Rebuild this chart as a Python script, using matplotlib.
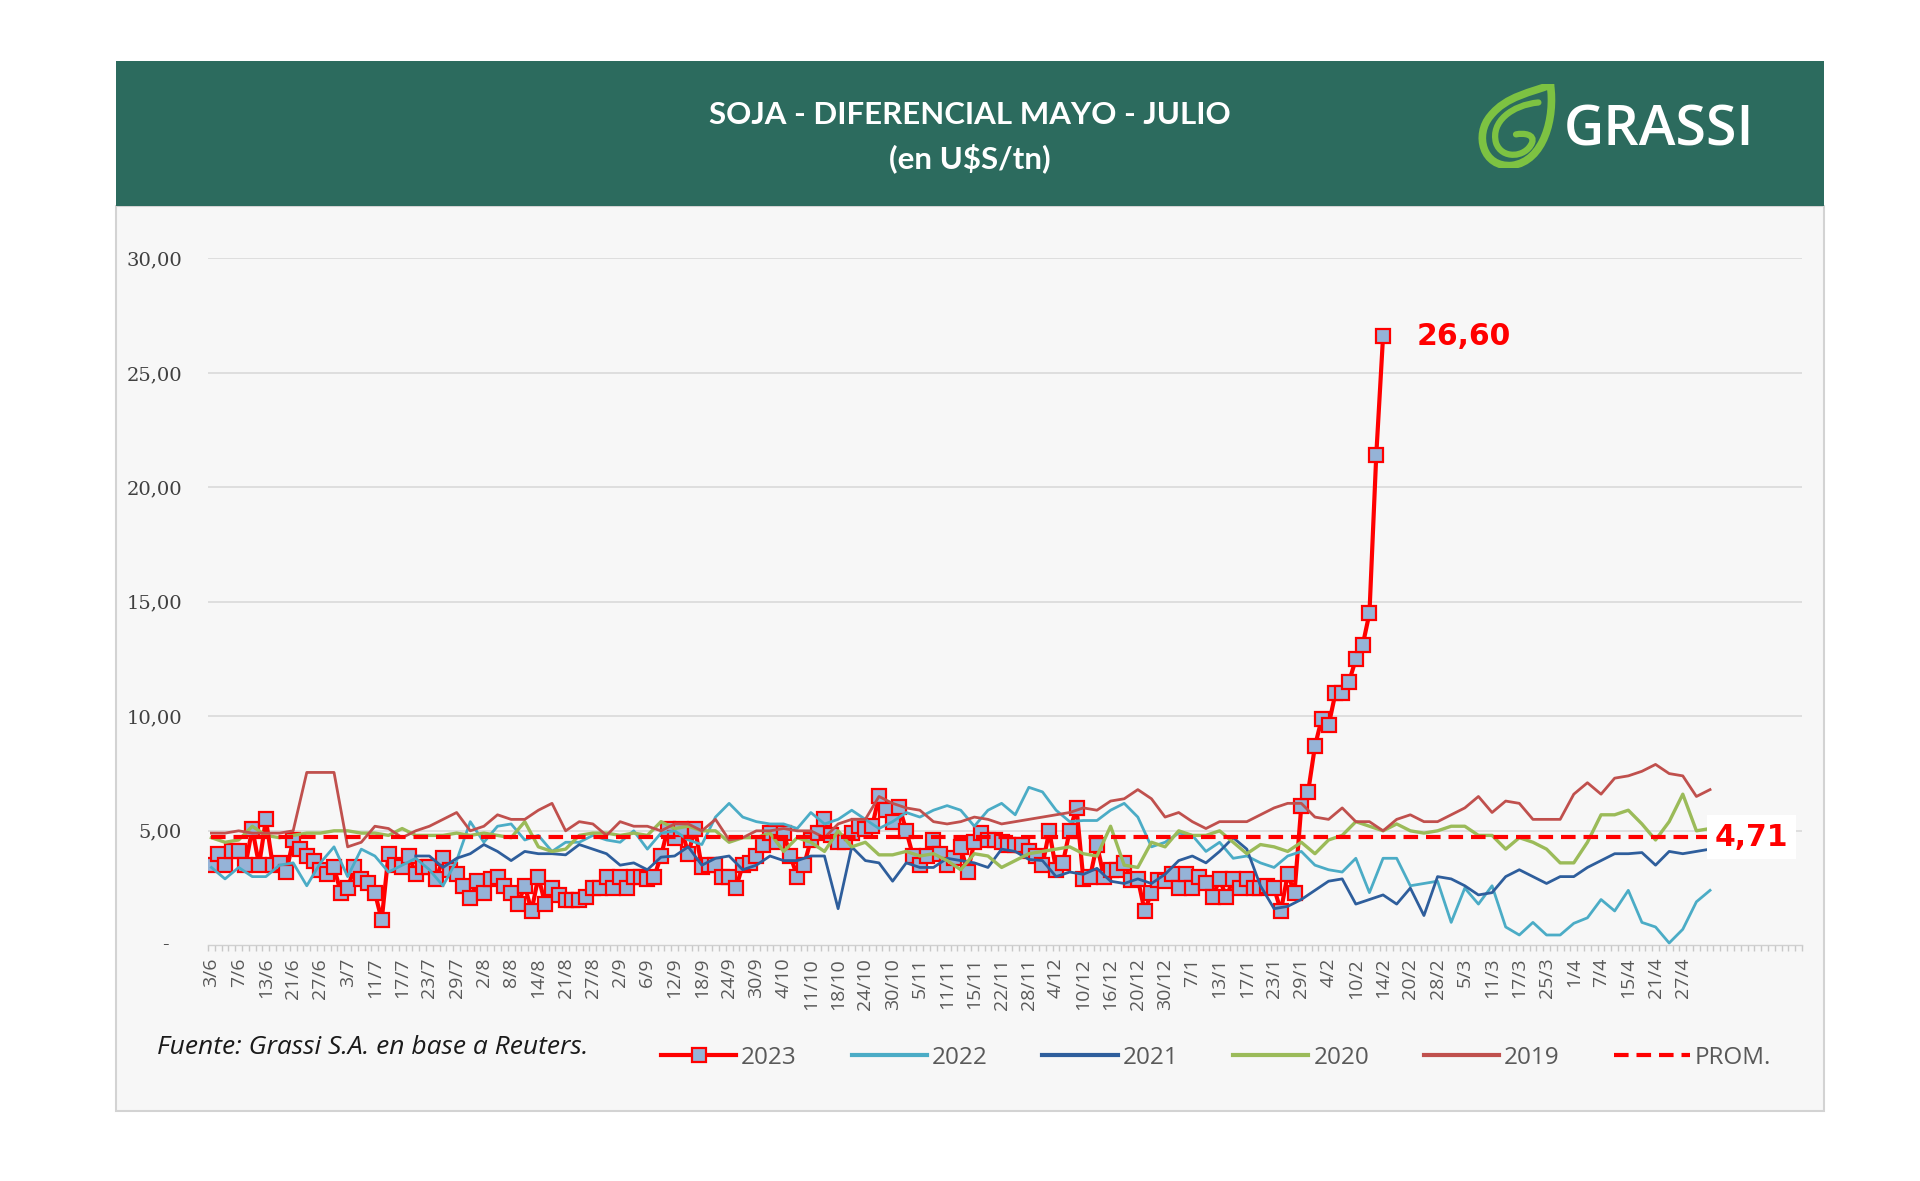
import numpy as np
import matplotlib
matplotlib.use('Agg')
import matplotlib.pyplot as plt
from matplotlib.patches import Rectangle, PathPatch
from matplotlib.path import Path
from matplotlib.lines import Line2D

# ---------------- DATA ----------------
date_labels = ['3/6', '7/6', '13/6', '21/6', '27/6', '3/7', '11/7', '17/7', '23/7', '29/7',
               '2/8', '8/8', '14/8', '21/8', '27/8', '2/9', '6/9', '12/9', '18/9', '24/9',
               '30/9', '4/10', '11/10', '18/10', '24/10', '30/10', '5/11', '11/11', '15/11', '22/11',
               '28/11', '4/12', '10/12', '16/12', '20/12', '30/12', '7/1', '13/1', '17/1', '23/1',
               '29/1', '4/2', '10/2', '14/2', '20/2', '28/2', '5/3', '11/3', '17/3', '25/3',
               '1/4', '7/4', '15/4', '21/4', '27/4']
n_categories = 234
label_every = 4

# 2023: one value per trading day
s2023 = [3.5, 4.0, 3.5, 4.1, 4.1, 3.5, 5.1, 3.5, 5.5, 3.5,
         3.6, 3.2, 4.6, 4.2, 3.9, 3.7, 3.3, 3.1, 3.4, 2.3,
         2.5, 3.4, 2.9, 2.7, 2.3, 1.1, 4.0, 3.5, 3.4, 3.9,
         3.1, 3.4, 3.4, 2.9, 3.8, 3.3, 3.1, 2.6, 2.05, 2.8,
         2.3, 2.9, 3.0, 2.6, 2.3, 1.8, 2.6, 1.5, 3.0, 1.8,
         2.5, 2.2, 2.0, 2.0, 2.0, 2.1, 2.5, 2.5, 3.0, 2.5,
         3.0, 2.5, 3.0, 3.0, 2.9, 3.0, 3.9, 5.1, 4.7, 5.1,
         4.0, 5.1, 3.4, 3.5, 3.5, 3.0, 3.0, 2.5, 3.5, 3.6,
         3.9, 4.4, 4.9, 4.5, 4.9, 3.9, 3.0, 3.5, 4.6, 4.9,
         5.5, 4.8, 4.5, 4.5, 4.9, 5.2, 5.1, 5.2, 6.5, 5.9,
         5.4, 6.05, 5.0, 3.9, 3.5, 3.9, 4.6, 4.0, 3.5, 3.8,
         4.3, 3.2, 4.5, 4.9, 4.6, 4.6, 4.5, 4.4, 4.4, 4.4,
         4.1, 3.9, 3.5, 5.0, 3.3, 3.6, 5.0, 6.0, 2.9, 3.0,
         4.4, 3.0, 3.3, 3.3, 3.6, 2.85, 2.9, 1.5, 2.3, 2.85,
         2.8, 3.1, 2.5, 3.1, 2.5, 3.0, 2.7, 2.1, 2.9, 2.1,
         2.9, 2.5, 2.9, 2.5, 2.5, 2.6, 2.5, 1.5, 3.1, 2.3,
         6.1, 6.7, 8.7, 9.9, 9.6, 11.0, 11.0, 11.5, 12.5, 13.1,
         14.5, 21.4, 26.6]

# previous seasons: one value every second trading day
s2022 = [3.4, 2.9, 3.4, 3.0, 3.0, 3.5, 3.6, 2.6, 3.6, 4.3, 3.0, 4.2, 3.9, 3.2, 3.5, 3.8, 3.3, 2.6, 3.7,
         5.4, 4.5, 5.2, 5.3, 4.6, 4.8, 4.1, 4.5, 4.5, 4.8, 4.6, 4.5, 5.0, 4.2, 4.9, 5.0, 4.6, 4.4,
         5.6, 6.2, 5.6, 5.4, 5.3, 5.3, 5.1, 5.8, 5.3, 5.5, 5.9, 5.5, 5.1, 5.4, 5.8, 5.6, 5.9, 6.1, 5.9,
         5.2, 5.9, 6.2, 5.7, 6.9, 6.7, 5.9, 5.4, 5.45, 5.45, 5.9, 6.2, 5.6, 4.3, 4.5, 4.9, 4.8, 4.1, 4.5,
         3.8, 3.9, 3.6, 3.4, 3.9, 4.1, 3.5, 3.3, 3.2, 3.8, 2.3, 3.8, 3.8, 2.6, 2.7, 2.8, 1.0, 2.5,
         1.8, 2.6, 0.8, 0.45, 1.0, 0.45, 0.45, 0.96, 1.2, 2.0, 1.5, 2.4, 1.0, 0.8, 0.1, 0.7, 1.9, 2.4]

s2021 = [np.nan] * 15 + [
         3.9, 3.9, 3.4, 3.8, 4.0, 4.4, 4.1, 3.7, 4.1, 4.0, 4.0, 3.95, 4.4, 4.2, 4.0, 3.5, 3.6, 3.3,
         3.85, 3.9, 4.3, 3.5,
         3.8, 3.9, 3.3, 3.5, 3.9, 3.7, 3.7, 3.9, 3.9, 1.6, 4.3, 3.7, 3.6, 2.8, 3.6, 3.4, 3.4, 3.8, 3.7,
         3.6, 3.4, 4.2, 4.1, 3.75, 3.7, 3.0, 3.2, 3.1, 3.36, 2.8, 2.7, 2.9, 2.7, 3.1, 3.7, 3.9, 3.6, 4.1,
         4.7, 4.2, 2.6, 1.6, 1.7, 2.0, 2.4, 2.8, 2.9, 1.8, 2.0, 2.2, 1.8, 2.5, 1.3, 3.0, 2.9, 2.6,
         2.2, 2.3, 3.0, 3.3, 3.0, 2.7, 3.0, 3.0, 3.4, 3.7, 4.0, 4.0, 4.05, 3.5, 4.1, 4.0, 4.1, 4.2]

s2020 = [4.7, 4.5, 4.6, 5.2, 4.8, 4.7, 4.8, 4.9, 4.9, 5.0, 5.0, 4.9, 4.9, 4.8, 5.1, 4.8, 4.8, 4.8, 4.9,
         4.8, 4.9, 4.8, 4.7, 5.4, 4.3, 4.1, 4.2, 4.8, 4.9, 4.9, 4.8, 4.9, 4.8, 5.4, 5.1, 5.2, 5.0,
         5.0, 4.5, 4.7, 4.7, 4.9, 4.1, 4.7, 4.5, 4.1, 5.0, 4.3, 4.5, 3.95, 3.95, 4.1, 3.9, 4.0, 3.7, 3.3,
         4.0, 3.9, 3.4, 3.7, 4.0, 4.1, 4.2, 4.3, 4.0, 3.9, 5.2, 3.5, 3.4, 4.5, 4.3, 5.0, 4.8, 4.8, 5.0,
         4.5, 4.0, 4.4, 4.3, 4.1, 4.5, 4.0, 4.6, 4.8, 5.4, 5.2, 5.0, 5.3, 5.0, 4.9, 5.0, 5.2, 5.2,
         4.8, 4.8, 4.2, 4.7, 4.5, 4.2, 3.6, 3.6, 4.5, 5.7, 5.7, 5.9, 5.3, 4.6, 5.4, 6.6, 5.0, 5.1]

s2019 = [4.9, 4.9, 5.0, 4.9, 4.9, 4.9, 5.0, 7.55, 7.55, 7.55, 4.3, 4.5, 5.2, 5.1, 4.7, 5.0, 5.2, 5.5, 5.8,
         5.0, 5.2, 5.7, 5.5, 5.5, 5.9, 6.2, 5.0, 5.4, 5.3, 4.8, 5.4, 5.2, 5.2, 5.0, 5.3, 5.3, 5.0,
         5.5, 4.6, 4.7, 5.0, 5.0, 5.1, 5.0, 5.0, 4.7, 5.3, 5.5, 5.5, 6.5, 6.2, 6.0, 5.9, 5.4, 5.3, 5.4,
         5.6, 5.5, 5.3, 5.4, 5.5, 5.6, 5.7, 5.8, 6.0, 5.9, 6.3, 6.4, 6.8, 6.4, 5.6, 5.8, 5.4, 5.1, 5.4,
         5.4, 5.4, 5.7, 6.0, 6.2, 6.2, 5.6, 5.5, 6.0, 5.4, 5.4, 5.0, 5.5, 5.7, 5.4, 5.4, 5.7, 6.0,
         6.5, 5.8, 6.3, 6.2, 5.5, 5.5, 5.5, 6.6, 7.1, 6.6, 7.3, 7.4, 7.6, 7.9, 7.5, 7.4, 6.5, 6.8]

prom_value = 4.71
series_names = ['2023', '2022', '2021', '2020', '2019', 'PROM.']
source_text = 'Fuente: Grassi S.A. en base a Reuters.'
title_lines = ['SOJA - DIFERENCIAL MAYO - JULIO', '(en U$S/tn)']

# ---------------- STYLE ----------------
C2023 = '#FF0000'
C2022 = '#4BACC6'
C2021 = '#2E5E9C'
C2020 = '#9BBB59'
C2019 = '#C0504D'
CPROM = '#FF0000'

W, H = 1920, 1181
fig = plt.figure(figsize=(W / 100, H / 100), dpi=100)
fig.patch.set_facecolor('white')


def fx(px):
    return px / W


def fy(py):
    return 1 - py / H


# panel background + header band
fig.add_artist(Rectangle((fx(116), fy(1111)), (1824 - 116) / W, (1111 - 206) / H,
                         transform=fig.transFigure, facecolor='#F7F7F7',
                         edgecolor='#D3D3D3', lw=1.5, zorder=-2))
fig.add_artist(Rectangle((fx(116), fy(206)), (1824 - 116) / W, (206 - 61) / H,
                         transform=fig.transFigure, facecolor='#2C6B5E',
                         edgecolor='none', zorder=-1))

fig.text(fx(970), fy(115), title_lines[0], color='white', fontsize=22.5, fontweight='bold',
         family=['Lato', 'DejaVu Sans'], ha='center', va='center')
fig.text(fx(970), fy(158), title_lines[1], color='white', fontsize=22.5, fontweight='bold',
         family=['Lato', 'DejaVu Sans'], ha='center', va='center')
fig.text(fx(1659), fy(131), 'GRASSI', color='white', fontsize=40, fontweight='semibold',
         family=['Open Sans', 'DejaVu Sans'], ha='center', va='center')

# leaf logo
lax = fig.add_axes([fx(1476), fy(168), 80 / W, 84 / H])
lax.set_zorder(5)
lax.set_xlim(0, 1)
lax.set_ylim(0, 1)
lax.axis('off')
green = '#7DC242'
outer = Path([(0.93, 0.99), (0.99, 0.6), (0.85, 0.08), (0.45, 0.03),
              (0.08, 0.0), (-0.02, 0.4), (0.18, 0.62),
              (0.38, 0.86), (0.7, 0.9), (0.93, 0.99)],
             [Path.MOVETO, Path.CURVE4, Path.CURVE4, Path.CURVE4,
              Path.CURVE4, Path.CURVE4, Path.CURVE4,
              Path.CURVE4, Path.CURVE4, Path.CURVE4])
lax.add_patch(PathPatch(outer, facecolor='none', edgecolor=green, lw=5.5, capstyle='round'))
inner = Path([(0.78, 0.78), (0.45, 0.75), (0.18, 0.55), (0.25, 0.3),
              (0.32, 0.1), (0.62, 0.12), (0.7, 0.3),
              (0.74, 0.4), (0.6, 0.42), (0.5, 0.4)],
             [Path.MOVETO, Path.CURVE4, Path.CURVE4, Path.CURVE4,
              Path.CURVE4, Path.CURVE4, Path.CURVE4,
              Path.CURVE4, Path.CURVE4, Path.CURVE4])
lax.add_patch(PathPatch(inner, facecolor='none', edgecolor=green, lw=4.5, capstyle='round'))

# ---------------- MAIN AXES ----------------
ax = fig.add_axes([fx(208), fy(945.3), 1594 / W, (945.3 - 258.4) / H])
ax.set_zorder(2)
ax.set_xlim(-0.5, n_categories - 0.5)
ax.set_ylim(0, 30)
ax.patch.set_alpha(0)
for s in ['top', 'right', 'left']:
    ax.spines[s].set_visible(False)
ax.spines['bottom'].set_color('#D0D0D0')
ax.spines['bottom'].set_linewidth(1)

yt = [5, 10, 15, 20, 25, 30]
ax.set_yticks(yt)
ax.set_yticklabels([f'{v:.2f}'.replace('.', ',') for v in yt],
                   family=['DejaVu Serif'], fontsize=14, color='#404040')
ax.tick_params(axis='y', length=0, pad=18.7)
ax.yaxis.grid(True, color='#DADADA', lw=1.2)
ax.set_axisbelow(True)
ax.annotate('-', xy=(0, 0), xycoords=('axes fraction', 'data'), xytext=(-28, 0),
            textcoords='offset points', ha='right', va='center',
            family=['DejaVu Serif'], fontsize=14, color='#404040')

xpos = np.arange(len(date_labels)) * label_every
ax.set_xticks(xpos)
ax.set_xticklabels(date_labels, rotation=90, family=['Open Sans', 'DejaVu Sans'],
                   fontsize=14, color='#595959')
ax.tick_params(axis='x', which='major', length=0, pad=9)
ax.set_xticks(np.arange(-0.5, n_categories, 1), minor=True)
ax.tick_params(axis='x', which='minor', length=4.5, width=1, color='#C8C8C8')

x2023 = np.arange(len(s2023))
x_prev = np.arange(len(s2019)) * 2

ax.plot(x2023, s2023, color=C2023, lw=3.0, marker='s', markersize=9.5,
        markerfacecolor='#95B3D7', markeredgecolor=C2023, markeredgewidth=1.6, zorder=3)
ax.plot(x_prev, s2022, color=C2022, lw=2.0, zorder=4)
ax.plot(x_prev, s2021, color=C2021, lw=2.0, zorder=5)
ax.plot(x_prev, s2020, color=C2020, lw=2.4, zorder=6)
ax.plot(x_prev, s2019, color=C2019, lw=2.0, zorder=7)
ax.plot([0, x_prev[-1]], [prom_value, prom_value], color=CPROM, lw=3.0,
        dashes=(3.5, 1.9), zorder=8)

last = s2023[-1]
ax.annotate(f'{last:.2f}'.replace('.', ','), xy=(x2023[-1], last), xytext=(24, 0),
            textcoords='offset points', ha='left', va='center', color='#FF0000',
            fontsize=21.5, fontweight='bold', family=['DejaVu Sans'], zorder=10)
ax.annotate(f'{prom_value:.2f}'.replace('.', ','), xy=(x_prev[-1], prom_value), xytext=(30, 0),
            textcoords='offset points', ha='center', va='center', color='#FF0000',
            fontsize=21.5, fontweight='bold', family=['DejaVu Sans'], zorder=10,
            bbox=dict(boxstyle='square,pad=0.25', facecolor='white', edgecolor='none'))

# ---------------- LEGEND + SOURCE ----------------
handles = [
    Line2D([], [], color=C2023, lw=3.0, marker='s', markersize=9.5,
           markerfacecolor='#95B3D7', markeredgecolor=C2023, markeredgewidth=1.6),
    Line2D([], [], color=C2022, lw=3.0),
    Line2D([], [], color=C2021, lw=3.0),
    Line2D([], [], color=C2020, lw=3.0),
    Line2D([], [], color=C2019, lw=3.0),
    Line2D([], [], color=CPROM, lw=3.0, dashes=(3.5, 1.9)),
]
leg = fig.legend(handles, series_names, loc='center left', bbox_to_anchor=(fx(661), fy(1058)),
                 ncol=6, frameon=False, numpoints=1, handlelength=3.1, handletextpad=0.2,
                 columnspacing=2.25, borderpad=0, borderaxespad=0,
                 prop={'family': ['Open Sans', 'DejaVu Sans'], 'size': 17.5})
for t in leg.get_texts():
    t.set_color('#595959')

fig.text(fx(157), fy(1048), source_text, fontsize=19, style='italic', color='#1A1A1A',
         family=['Open Sans', 'DejaVu Sans'], ha='left', va='center')

fig.savefig('out.png', dpi=100, facecolor='white')
